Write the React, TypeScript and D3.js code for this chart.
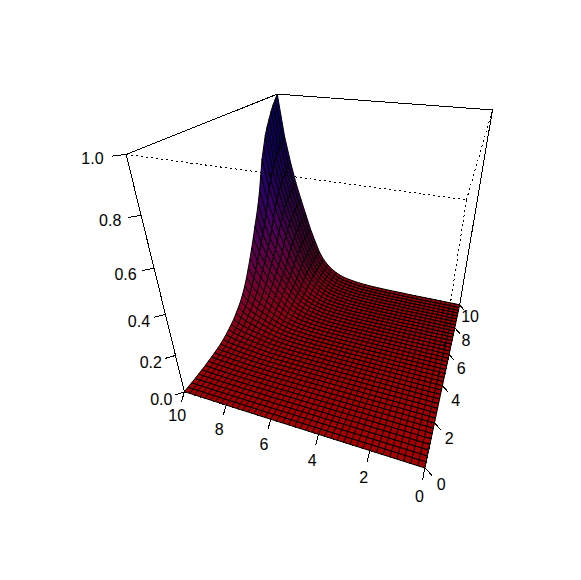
import React from "react";
import * as d3 from "d3";

// grid positions (both horizontal axes)
const gridValues = [0,0.25,0.5,0.75,1,1.25,1.5,1.75,2,2.25,2.5,2.75,3,3.25,3.5,3.75,4,4.25,4.5,4.75,5,5.25,5.5,5.75,6,6.25,6.5,6.75,7,7.25,7.5,7.75,8,8.25,8.5,8.75,9,9.25,9.5,9.75,10];
// height profile read along the y = 10 wall, x = 0..10
const xProfile = [0.001,0.001,0.001,0.001,0.001,0.001,0.001,0.001,0.001,0.001,0.001,0.001,0.002,0.002,0.002,0.002,0.003,0.003,0.004,0.005,0.006,0.008,0.01,0.013,0.017,0.022,0.028,0.037,0.05,0.067,0.09,0.12,0.165,0.23,0.3,0.385,0.47,0.56,0.67,0.8,1];
// height profile read along the x = 10 wall, y = 0..10
const yProfile = [0.002,0.003,0.004,0.005,0.007,0.009,0.011,0.014,0.017,0.021,0.025,0.03,0.037,0.046,0.056,0.068,0.08,0.098,0.115,0.135,0.16,0.19,0.225,0.265,0.305,0.35,0.395,0.445,0.49,0.54,0.6,0.67,0.74,0.79,0.84,0.875,0.905,0.935,0.96,0.98,1];
const xTicks = [0,2,4,6,8,10];
const yTicks = [0,2,4,6,8,10];
const zTicks = [0,0.2,0.4,0.6,0.8,1];
const zTickLabels = ["0.0","0.2","0.4","0.6","0.8","1.0"];

const W = 581, H = 580;
const theta = 160 * Math.PI / 180, phi = -30 * Math.PI / 180;
const kappa = 0.27, scale = 120, cx = 339, cy = 251.5;

const sx = d3.scaleLinear().domain([0, 10]).range([-1, 1]);
const sy = d3.scaleLinear().domain([0, 10]).range([-1, 1]);
const sz = d3.scaleLinear().domain([0, 1]).range([-1, 1.02]);

type V3 = [number, number, number];
const R: V3 = [Math.cos(theta), Math.sin(theta), 0];
const U: V3 = [-Math.sin(theta) * Math.sin(phi), Math.cos(theta) * Math.sin(phi), Math.cos(phi)];
const F: V3 = [Math.sin(theta) * Math.cos(phi), -Math.cos(theta) * Math.cos(phi), Math.sin(phi)];
const dot = (a: V3, b: V3) => a[0] * b[0] + a[1] * b[1] + a[2] * b[2];
const project = (p: V3): [number, number] => {
  const w = 1 + kappa * dot(p, F);
  return [cx + scale * dot(p, R) / w, cy - scale * dot(p, U) / w];
};
const cube = (x: number, y: number, z: number): V3 => [sx(x), sy(y), sz(z)];
const pt = (x: number, y: number, z: number) => project(cube(x, y, z));
const line = d3.line<[number, number]>();

const ramp = d3.interpolateRgb("#ff0000", "#0000ff");
const colorExponent = 0.7;
const shadeParams = { i0: 0.45, ix: 0.15, iy: -0.55, iz: 0.2, max: 0.65 };
const facetColor = (z: number, n: V3) => {
  const I = Math.max(0.08, Math.min(shadeParams.max, shadeParams.i0 + shadeParams.ix * n[0] + shadeParams.iy * n[1] + shadeParams.iz * n[2]));
  const c = d3.rgb(ramp(Math.pow(z, colorExponent)));
  return d3.rgb(c.r * I, c.g * I, c.b * I).formatRgb();
};

const heights = gridValues.map((_, i) => gridValues.map((_, j) => xProfile[i] * yProfile[j]));

const facets = (() => {
  const out: { d: string; depth: number; fill: string }[] = [];
  for (let i = 0; i < gridValues.length - 1; i++) {
    for (let j = 0; j < gridValues.length - 1; j++) {
      const a = cube(gridValues[i], gridValues[j], heights[i][j]);
      const b = cube(gridValues[i + 1], gridValues[j], heights[i + 1][j]);
      const c = cube(gridValues[i + 1], gridValues[j + 1], heights[i + 1][j + 1]);
      const e = cube(gridValues[i], gridValues[j + 1], heights[i][j + 1]);
      const u: V3 = [c[0] - a[0], c[1] - a[1], c[2] - a[2]];
      const v: V3 = [e[0] - b[0], e[1] - b[1], e[2] - b[2]];
      let n: V3 = [u[1] * v[2] - u[2] * v[1], u[2] * v[0] - u[0] * v[2], u[0] * v[1] - u[1] * v[0]];
      const len = Math.hypot(n[0], n[1], n[2]);
      n = [n[0] / len, n[1] / len, n[2] / len];
      if (n[2] < 0) n = [-n[0], -n[1], -n[2]];
      const zMean = (heights[i][j] + heights[i + 1][j] + heights[i + 1][j + 1] + heights[i][j + 1]) / 4;
      const depth = (dot(a, F) + dot(b, F) + dot(c, F) + dot(e, F)) / 4;
      out.push({ d: line([a, b, c, e].map(project))! + "Z", depth, fill: facetColor(zMean, n) });
    }
  }
  return out.sort((p, q) => d3.ascending(p.depth, q.depth));
})();

const seg = (a: [number, number, number], b: [number, number, number]) => line([pt(...a), pt(...b)])!;

const solidEdges = [
  seg([10, 0, 0], [10, 0, 1]),
  seg([10, 0, 1], [10, 10, 1]),
  seg([10, 10, 1], [0, 10, 1]),
  seg([0, 10, 1], [0, 10, 0]),
  seg([10, 10, 0], [10, 10, 1]),
  seg([10, 0, 0], [10, 10, 0]),
  seg([10, 10, 0], [0, 10, 0]),
];
const dottedEdges = [
  seg([10, 0, 1], [0, 0, 1]),
  seg([0, 0, 1], [0, 10, 1]),
  seg([0, 0, 1], [0, 0, 0]),
  seg([10, 0, 0], [0, 0, 0]),
  seg([0, 0, 0], [0, 10, 0]),
];

const tickD = 0.055;
const labelMult = { x: 2.4, y: 2.3, z: 2.35 };
const offset = (p: V3, d: V3, k: number): V3 => [p[0] + d[0] * k, p[1] + d[1] * k, p[2] + d[2] * k];
const axisMarks = [
  ...xTicks.map((t) => ({ base: cube(t, 0, 0), dir: [0, -1, -1] as V3, mult: labelMult.x, text: String(t) })),
  ...yTicks.map((t) => ({ base: cube(0, t, 0), dir: [-1, 0, -1] as V3, mult: labelMult.y, text: String(t) })),
  ...zTicks.map((t, i) => ({ base: cube(10, 0, t), dir: [1, -1, 0] as V3, mult: labelMult.z, text: zTickLabels[i] })),
];

export default function App() {
  return (
    <svg width={W} height={H} style={{ position: "absolute", left: 0, top: 0, background: "#fff" }}>
      <g stroke="#000" fill="none" shapeRendering="crispEdges">
        {solidEdges.map((d, i) => <path key={i} d={d} />)}
      </g>
      <g stroke="#000" strokeWidth={1} strokeLinejoin="round">
        {facets.map((f, i) => <path key={i} d={f.d} fill={f.fill} />)}
      </g>
      <g stroke="#000" fill="none" strokeDasharray="2 3" shapeRendering="crispEdges">
        {dottedEdges.map((d, i) => <path key={i} d={d} />)}
      </g>
      <g stroke="#000" fill="none" shapeRendering="crispEdges">
        {axisMarks.map((m, i) => (
          <path key={i} d={line([project(m.base), project(offset(m.base, m.dir, tickD))])!} />
        ))}
      </g>
      <g fontFamily="'Liberation Sans', Arial, sans-serif" fontSize={16} fill="#000" textAnchor="middle" dominantBaseline="central">
        {axisMarks.map((m, i) => {
          const [x, y] = project(offset(m.base, m.dir, tickD * m.mult));
          return <text key={i} x={x} y={y}>{m.text}</text>;
        })}
      </g>
    </svg>
  );
}
